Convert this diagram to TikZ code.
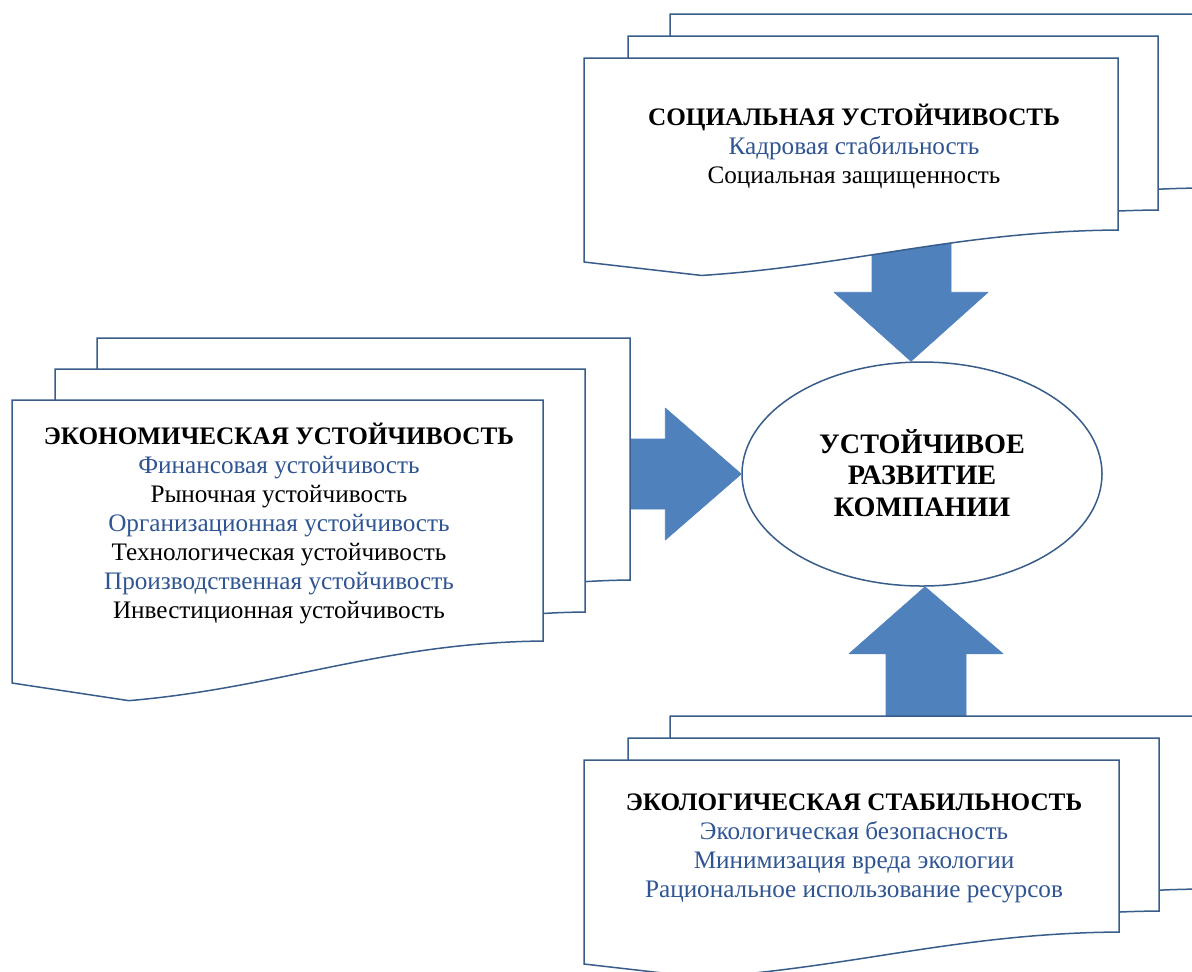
\documentclass[tikz,border=0pt]{standalone}
\usepackage{fontspec}
\setmainfont{Liberation Serif}
\usetikzlibrary{shapes.geometric}
\definecolor{lineblue}{HTML}{385D8A}
\definecolor{arrowblue}{HTML}{4F81BD}
\definecolor{txtblue}{HTML}{2F5592}
\newcommand\mdoc[5]{%
 \pgfmathsetmacro\dW{#3-#1}%
 \pgfmathsetmacro\dBL{#4+#5}%
 \pgfmathsetmacro\dMx{#1+0.22*\dW}%
 \pgfmathsetmacro\dMy{\dBL+0.42*#5}%
 \pgfmathsetmacro\dAx{\dMx+0.28*\dW}%
 \pgfmathsetmacro\dAy{\dMy-0.30*#5}%
 \pgfmathsetmacro\dBx{#3-0.3*\dW}%
 \pgfmathsetmacro\dBy{#4+0.04*#5}%
 \filldraw[docline] (#1,#2) -- (#3,#2) -- (#3,#4) .. controls (\dBx,\dBy) and (\dAx,\dAy) .. (\dMx,\dMy) -- (#1,\dBL) -- cycle;%
}
\tikzset{
 docline/.style={draw=lineblue, fill=white, line width=0.75pt, line join=miter},
 blockarrow/.style={fill=arrowblue, draw=arrowblue, line width=0.3pt, line join=round},
 doctext/.style={align=center, font=\fontsize{12.6}{14.5}\selectfont, inner sep=0pt},
 bigtext/.style={align=center, font=\bfseries\fontsize{14.1}{15.6}\selectfont},
 hub/.style={ellipse, draw=lineblue, fill=white, line width=0.75pt, minimum width=180pt, minimum height=112pt, inner sep=0pt}
}
\begin{document}
\begin{tikzpicture}[x=0.5pt,y=-0.5pt]
\useasboundingbox (0,0) rectangle (1192,971);
\clip (0,0) rectangle (1192,971);
% central ellipse
\node[hub] (E) at (922,474) {};
\node[bigtext] (Etxt) at ([yshift=0.5pt]E.center) {УСТОЙЧИВОЕ\\РАЗВИТИЕ\\КОМПАНИИ};
% block arrows
\coordinate (tS) at ([xshift=-5.5pt]E.north);
\coordinate (tL) at (E.west);
\coordinate (tB) at ([xshift=1.5pt]E.south);
\fill[blockarrow] (tS) -- ++(-77,-69) -- ++(38,0) -- ++(0,-70) -- ++(79,0) -- ++(0,70) -- ++(37,0) -- cycle;
\fill[blockarrow] (tL) -- ++(-76,-66) -- ++(0,31) -- ++(-80,0) -- ++(0,70) -- ++(80,0) -- ++(0,31) -- cycle;
\fill[blockarrow] (tB) -- ++(-76,67) -- ++(37,0) -- ++(0,90) -- ++(80,0) -- ++(0,-90) -- ++(37,0) -- cycle;
% social
\mdoc{670}{14}{1202}{188}{32}
\mdoc{628}{36}{1158}{210}{32}
\mdoc{584}{58}{1118}{230}{32}
\node[doctext] (soc) at (854,146) {\textbf{СОЦИАЛЬНАЯ УСТОЙЧИВОСТЬ}\\
 \textcolor{txtblue}{Кадровая стабильность}\\
 Социальная защищенность};
% economic
\mdoc{97}{338}{630}{580}{42}
\mdoc{55}{369}{585}{612}{42}
\mdoc{12}{400}{543}{641}{42}
\node[doctext] (econ) at (279,523) {\textbf{ЭКОНОМИЧЕСКАЯ УСТОЙЧИВОСТЬ}\\
 \textcolor{txtblue}{Финансовая устойчивость}\\
 Рыночная устойчивость\\
 \textcolor{txtblue}{Организационная устойчивость}\\
 Технологическая устойчивость\\
 \textcolor{txtblue}{Производственная устойчивость}\\
 Инвестиционная устойчивость};
% ecology
\mdoc{670}{716}{1202}{889}{32}
\mdoc{628}{738}{1159}{911}{32}
\mdoc{584}{760}{1119}{932}{32}
\node[doctext] (ecol) at (854,848) {\textbf{ЭКОЛОГИЧЕСКАЯ СТАБИЛЬНОСТЬ}\\
 \textcolor{txtblue}{Экологическая безопасность}\\
 \textcolor{txtblue}{Минимизация вреда экологии}\\
 \textcolor{txtblue}{Рациональное использование ресурсов}};
\end{tikzpicture}
\end{document}
